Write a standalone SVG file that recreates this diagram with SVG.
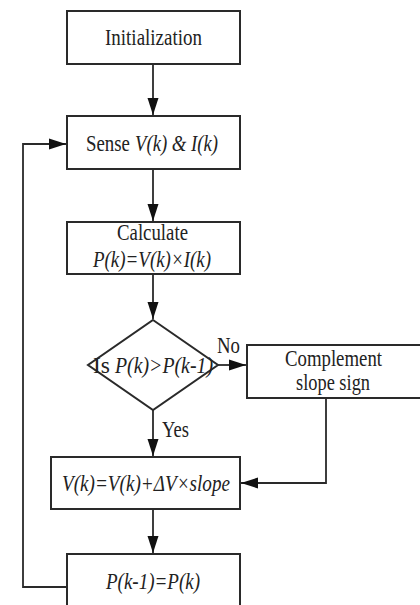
<svg xmlns="http://www.w3.org/2000/svg" width="420" height="605" viewBox="0 0 420 605">
<style>
.box{fill:#fff;stroke:#2a2a2a;stroke-width:2}
.ln{fill:none;stroke:#2a2a2a;stroke-width:1.8}
text{font-family:"Liberation Serif","Times New Roman",serif;font-size:23px;fill:#222}
.it{font-style:italic}
</style>
<defs>
<marker id="ah" markerUnits="userSpaceOnUse" markerWidth="18" markerHeight="12" refX="17" refY="6" orient="auto">
<path d="M0,0.5 L17,6 L0,11.5 z" fill="#111"/>
</marker>
</defs>
<rect width="420" height="605" fill="#fff"/>
<g id="connectors">
<line class="ln" x1="153" y1="64" x2="153" y2="115" marker-end="url(#ah)"/>
<line class="ln" x1="153" y1="169" x2="153" y2="221" marker-end="url(#ah)"/>
<line class="ln" x1="153" y1="274" x2="153" y2="319" marker-end="url(#ah)"/>
<line class="ln" x1="218" y1="365" x2="246" y2="365" marker-end="url(#ah)"/>
<line class="ln" x1="153" y1="410" x2="153" y2="456" marker-end="url(#ah)"/>
<polyline class="ln" points="326,398 326,483 241,483" marker-end="url(#ah)"/>
<line class="ln" x1="153" y1="509" x2="153" y2="553" marker-end="url(#ah)"/>
<polyline class="ln" points="67,587 23,587 23,144 66,144" marker-end="url(#ah)"/>
<text x="217" y="353" textLength="23" lengthAdjust="spacingAndGlyphs">No</text>
<text x="162" y="437" textLength="27" lengthAdjust="spacingAndGlyphs">Yes</text>
</g>
<g id="init">
<rect class="box" x="67" y="11" width="173" height="53"/>
<text x="105" y="45" textLength="97" lengthAdjust="spacingAndGlyphs">Initialization</text>
</g>
<g id="sense">
<rect class="box" x="67" y="116" width="173" height="53"/>
<text x="86" y="151" textLength="44" lengthAdjust="spacingAndGlyphs">Sense</text>
<text x="135" y="151" class="it" textLength="83" lengthAdjust="spacingAndGlyphs">V(k) &amp; I(k)</text>
</g>
<g id="calc">
<rect class="box" x="67" y="222" width="173" height="52"/>
<text x="117" y="240" textLength="71" lengthAdjust="spacingAndGlyphs">Calculate</text>
<text x="93" y="267" class="it" textLength="118" lengthAdjust="spacingAndGlyphs">P(k)=V(k)×I(k)</text>
</g>
<g id="decision">
<polygon class="box" points="153,320 218,365 153,410 88,365"/>
<text x="93" y="373" textLength="17" lengthAdjust="spacingAndGlyphs">Is</text>
<text x="115" y="373" class="it" textLength="98" lengthAdjust="spacingAndGlyphs">P(k)&gt;P(k-1)</text>
</g>
<g id="complement">
<rect class="box" x="247" y="345" width="180" height="53"/>
<text x="285" y="366" textLength="97" lengthAdjust="spacingAndGlyphs">Complement</text>
<text x="296" y="390" textLength="74" lengthAdjust="spacingAndGlyphs">slope sign</text>
</g>
<g id="update">
<rect class="box" x="51" y="457" width="189" height="52"/>
<text x="62" y="491" class="it" textLength="168" lengthAdjust="spacingAndGlyphs">V(k)=V(k)+ΔV×slope</text>
</g>
<g id="store">
<rect class="box" x="67" y="554" width="173" height="60"/>
<text x="106" y="589" class="it" textLength="94" lengthAdjust="spacingAndGlyphs">P(k-1)=P(k)</text>
</g>
</svg>
